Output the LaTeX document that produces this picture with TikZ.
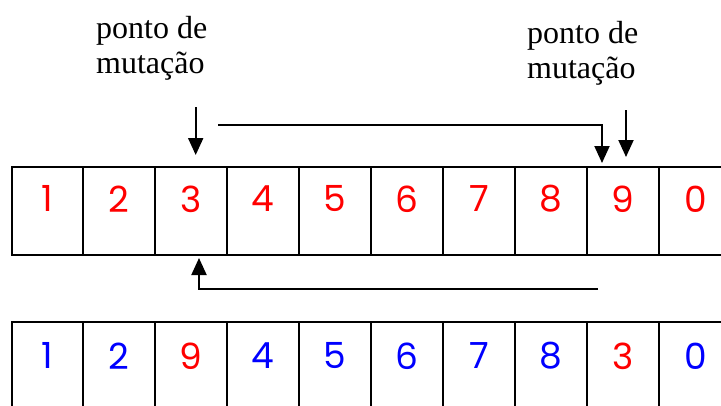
\documentclass[tikz,border=0pt]{standalone}
\usepackage{fontspec}
\setmainfont{Liberation Serif}
\newfontfamily\digitfont{Poppins}
\usetikzlibrary{arrows.meta,calc}
\definecolor{dred}{RGB}{255,0,0}
\definecolor{dblue}{RGB}{0,0,255}
\begin{document}
\begin{tikzpicture}[x=1pt,y=-1pt,
  cell/.style={draw=black,line width=2.2pt,minimum width=72pt,minimum height=88pt,inner sep=0pt},
  digit/.style={font=\digitfont\fontsize{36}{36}\selectfont,inner sep=0pt,anchor=center},
  lbl/.style={font=\fontsize{32}{35}\selectfont,align=left,inner sep=0pt,anchor=north west},
  conn/.style={line width=2pt,-{Triangle[width=15pt,length=17pt]}},
  plain/.style={line width=2pt}]
\useasboundingbox (0,0) rectangle (721,405);
\clip (0,0) rectangle (721,405);
% top row
\node[cell,minimum width=71.3pt] (t1) at (47.6,211) {};
\foreach \i in {2,...,10}{
  \node[cell] (t\i) at ({119.3+72*(\i-2)},211) {};
}
% bottom row
\node[cell,minimum width=71.3pt] (b1) at (47.6,366) {};
\foreach \i in {2,...,10}{
  \node[cell] (b\i) at ({119.3+72*(\i-2)},366) {};
}
% top digits
\foreach \i/\d in {1/1,2/2,3/3,4/4,5/5,6/6,7/7,8/8,9/9,10/0}{
  \node[digit,text=dred] (td\i) at ($(t\i.north)+(0,33)$) {\d};
}
% bottom digits
\foreach \i/\d/\c in {1/1/dblue,2/2/dblue,3/9/dred,4/4/dblue,5/5/dblue,6/6/dblue,7/7/dblue,8/8/dblue,9/3/dred,10/0/dblue}{
  \node[digit,text=\c] (bd\i) at ($(b\i.north)+(0,35)$) {\d};
}
% labels
\node[lbl] (l1) at (96,16) {ponto de\\mutação};
\node[lbl] (l2) at (527,21) {ponto de\\mutação};
% mutation arrows
\coordinate (a1s) at (195.7,107);
\coordinate (a1e) at (195.7,155);
\coordinate (a2s) at (626,110);
\coordinate (a2e) at (626,157);
\draw[conn] (a1s) -- (a1e);
\draw[conn] (a2s) -- (a2e);
% swap connectors
\coordinate (s1) at (218,125);
\coordinate (s1e) at (602,163);
\draw[conn] (s1) -| (s1e);
\coordinate (s2) at (598,289);
\coordinate (s2e) at (199,258);
\draw[conn] (s2) -| (s2e);
\end{tikzpicture}
\end{document}
